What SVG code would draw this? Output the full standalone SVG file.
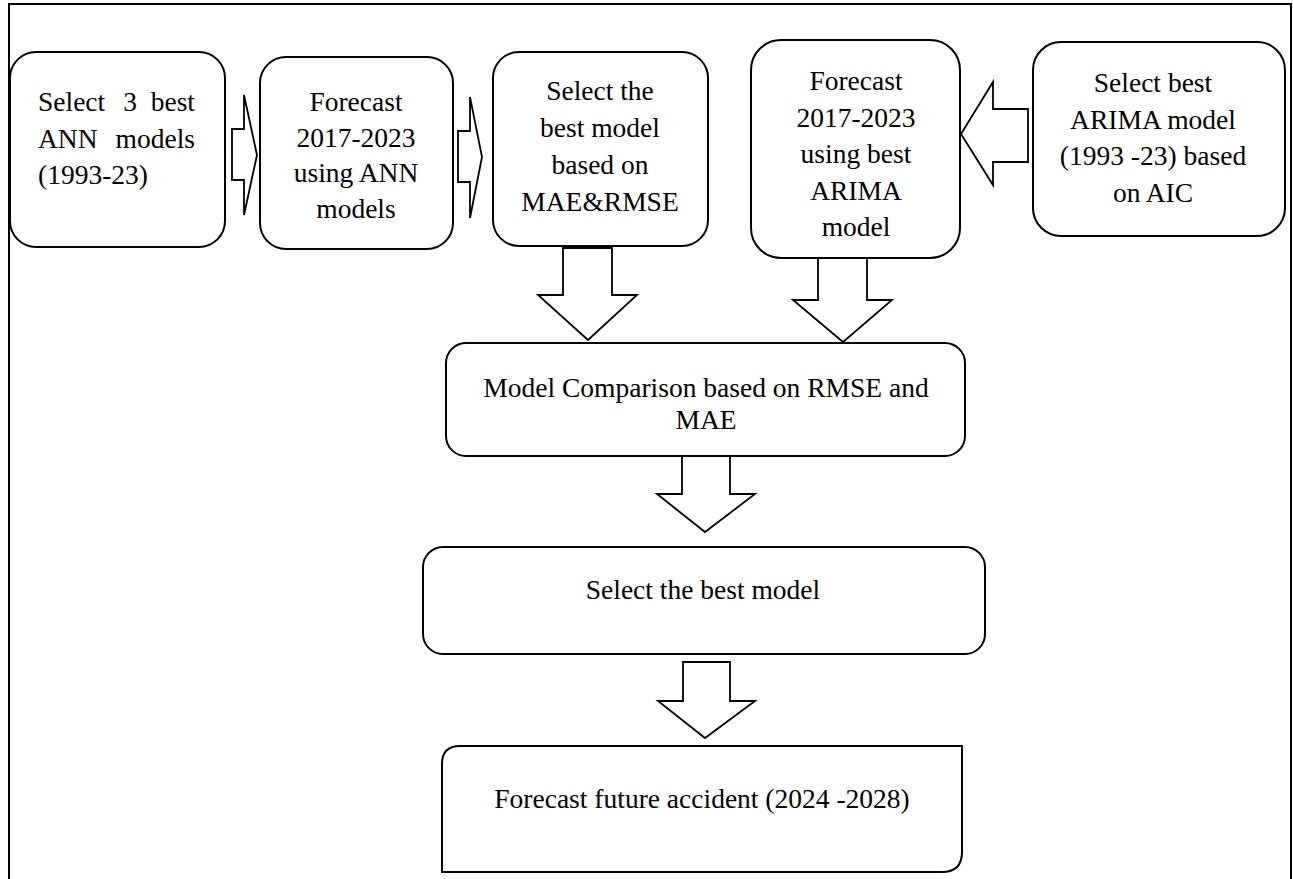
<svg xmlns="http://www.w3.org/2000/svg" width="1293" height="879" viewBox="0 0 1293 879">
<style>
.box{fill:#fff;stroke:#000;stroke-width:2}
.arr{fill:#fff;stroke:#000;stroke-width:1.8;stroke-linejoin:miter}
.frame{fill:none;stroke:#000;stroke-width:2}
text{font-family:"Liberation Serif","Times New Roman",serif;font-size:27.5px;fill:#000}
.c{text-anchor:middle}
</style>
<rect width="1293" height="879" fill="#fff"/>
<rect class="frame" x="9" y="4" width="1282" height="900"/>
<g id="connectors">
<polygon class="arr" points="232,129 244,129 244,95 257,155 244,215 244,180 232,180"/>
<polygon class="arr" points="458,131 470,131 470,97 482,157 470,218 470,182 458,182"/>
<polygon class="arr" points="961,134 993,82 993,109 1028,109 1028,162 993,162 993,185"/>
<polygon class="arr" points="563,248 612,248 612,295 637,295 588,340 538,295 563,295"/>
<polygon class="arr" points="818,258 867,258 867,300 892,300 843,342 793,300 818,300"/>
<polygon class="arr" points="682,456 730,456 730,494 755,494 705,532 657,494 682,494"/>
<polygon class="arr" points="683,662 730,662 730,701 755,701 705,738 658,701 683,701"/>
</g>
<g id="n1">
<rect class="box" x="10" y="52" width="215" height="195" rx="26"/>
<text x="38" y="111">Select</text><text x="130" y="111" class="c">3</text><text x="195" y="111" text-anchor="end">best</text>
<text x="38" y="147.5">ANN</text><text x="195" y="147.5" text-anchor="end">models</text>
<text x="38" y="184">(1993-23)</text>
</g>
<g id="n2">
<rect class="box" x="260" y="57" width="193" height="192" rx="26"/>
<text class="c" x="356" y="111">Forecast</text>
<text class="c" x="356" y="146.5">2017-2023</text>
<text class="c" x="356" y="182">using ANN</text>
<text class="c" x="356" y="217.5">models</text>
</g>
<g id="n3">
<rect class="box" x="493" y="52" width="215" height="194" rx="26"/>
<text class="c" x="600" y="100">Select the</text>
<text class="c" x="600" y="137">best model</text>
<text class="c" x="600" y="174">based on</text>
<text class="c" x="600" y="211">MAE&amp;RMSE</text>
</g>
<g id="n4">
<rect class="box" x="751" y="40" width="209" height="218" rx="30"/>
<text class="c" x="856" y="90">Forecast</text>
<text class="c" x="856" y="126.5">2017-2023</text>
<text class="c" x="856" y="163">using best</text>
<text class="c" x="856" y="199.5">ARIMA</text>
<text class="c" x="856" y="236">model</text>
</g>
<g id="n5">
<rect class="box" x="1033" y="42" width="252" height="194" rx="28"/>
<text class="c" x="1153" y="92">Select best</text>
<text class="c" x="1153" y="128.5">ARIMA model</text>
<text class="c" x="1153" y="165">(1993 -23) based</text>
<text class="c" x="1153" y="201.5">on AIC</text>
</g>
<g id="n6">
<rect class="box" x="446" y="343" width="519" height="113" rx="20"/>
<text class="c" x="706" y="397">Model Comparison based on RMSE and</text>
<text class="c" x="706" y="429">MAE</text>
</g>
<g id="n7">
<rect class="box" x="423" y="547" width="562" height="107" rx="20"/>
<text class="c" x="703" y="599">Select the best model</text>
</g>
<g id="n8">
<path class="box" d="M442,872 V764 Q442,746 460,746 H962 V852 Q962,872 942,872 Z"/>
<text class="c" x="702" y="808">Forecast future accident (2024 -2028)</text>
</g>
</svg>
